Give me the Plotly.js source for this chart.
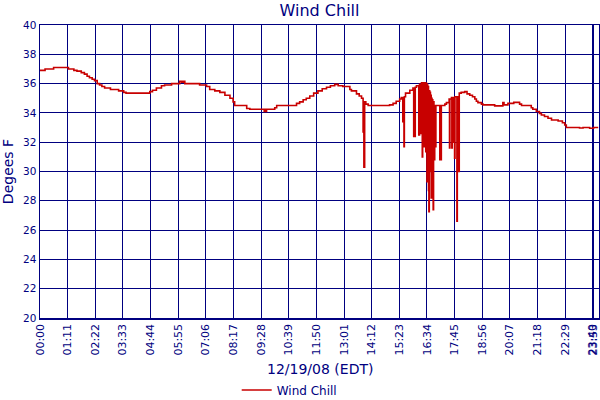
<!DOCTYPE html>
<html>
<head>
<meta charset="utf-8">
<script src="https://cdn.plot.ly/plotly-3.0.1.min.js"></script>
<style>html,body{margin:0;padding:0;background:#fff;}#chart{width:600px;height:400px;}</style>
</head>
<body>
<div id="chart"></div>
<script>
// Time of each reading, minutes after midnight (12/19/08)
var timeMin = [
  0, 13, 35, 73, 87, 95, 106, 114, 121, 127, 134, 140, 147, 153, 159, 166, 181, 202, 215, 221,
  282, 289, 299, 312, 320, 338, 359, 364, 368, 372, 410, 428, 436, 449, 462, 475, 488, 496, 500,
  531, 539, 576, 578, 580, 582, 603, 608, 659, 667, 676, 684, 693, 703, 714, 725, 736, 746, 757,
  766, 778, 796, 800, 813, 820, 826, 830, 831, 832, 834, 837, 843, 898, 907, 915, 924, 928, 932,
  933, 935, 936, 939, 950, 958, 960, 964, 967, 973, 975, 977, 980, 982, 983, 986, 989, 991, 993,
  994, 995, 996, 997, 998, 999, 1000, 1001, 1002, 1003, 1004, 1005, 1006, 1007, 1008, 1009, 1010,
  1011, 1012, 1013, 1014, 1015, 1016, 1017, 1027, 1031, 1035, 1040, 1044, 1051, 1052, 1053, 1057,
  1058, 1059, 1061, 1062, 1065, 1066, 1071, 1072, 1076, 1077, 1082, 1091, 1097, 1104, 1111, 1117,
  1121, 1125, 1134, 1138, 1168, 1189, 1192, 1202, 1217, 1232, 1237, 1262, 1266, 1275, 1283, 1288,
  1296, 1305, 1314, 1331, 1342, 1348, 1352, 1386, 1395, 1412, 1422, 1434
];
// Wind chill, degrees F
var windChill = [
  36.9, 37.0, 37.1, 37.0, 36.9, 36.85, 36.75, 36.65, 36.5, 36.4, 36.3, 36.2, 36.0, 35.9, 35.8, 35.7, 35.6, 35.5, 35.4, 35.35,
  35.45, 35.55, 35.7, 35.85, 35.9, 36.0, 36.15, 36.1, 36.15, 36.0, 35.9, 35.8, 35.6, 35.5, 35.4, 35.2, 35.0, 34.75, 34.5,
  34.3, 34.25, 34.1, 34.25, 34.1, 34.25, 34.35, 34.5, 34.65, 34.75, 34.9, 35.0, 35.15, 35.35, 35.5, 35.65, 35.75, 35.85, 35.95,
  35.85, 35.8, 35.6, 35.5, 35.3, 35.15, 35.0, 32.7, 34.75, 30.3, 34.75, 34.6, 34.5, 34.55, 34.65, 34.8, 34.95, 35.05, 33.4,
  35.05, 31.7, 35.1, 35.35, 35.55, 35.7, 32.4, 35.75, 35.85, 32.5, 35.95, 32.6, 36.05, 31.0, 36.05, 31.7, 36.05, 31.35, 36.0,
  29.3, 35.9, 29.5, 35.8, 28.7, 27.25, 35.5, 31.5, 35.4, 30.0, 35.2, 28.2, 35.0, 31.0, 34.9, 31.2, 27.4,
  34.75, 31.0, 30.8, 34.5, 31.7, 31.7, 34.5, 30.8, 34.5, 34.5, 34.6, 34.7, 34.95, 31.6, 34.95, 35.05,
  31.6, 35.05, 32.0, 35.05, 30.9, 35.1, 26.6, 35.1, 30.0, 35.35, 35.4, 35.45, 35.3, 35.2, 35.1, 34.95,
  34.8, 34.7, 34.6, 34.55, 34.48, 34.7, 34.55, 34.65, 34.72, 34.6, 34.5, 34.35, 34.25, 34.1, 33.97, 33.86,
  33.75, 33.63, 33.52, 33.45, 33.33, 33.17, 33.0, 32.97, 33.0, 32.95, 33.0, 33.0
];
// X-axis ticks
var tickMinutes = [0, 71, 142, 213, 284, 355, 426, 497, 568, 639, 710, 781, 852, 923, 994, 1065, 1136, 1207, 1278, 1349, 1420, 1421];
var tickLabels = ["00:00","01:11","02:22","03:33","04:44","05:55","07:06","08:17","09:28","10:39","11:50","13:01","14:12","15:23","16:34","17:45","18:56","20:07","21:18","22:29","23:40","23:53"];
var yTicks = [20, 22, 24, 26, 28, 30, 32, 34, 36, 38, 40];

var navy = '#000080';
var font = 'DejaVu Sans, Verdana, sans-serif';

var trace = {
  x: timeMin,
  y: windChill,
  type: 'scatter',
  mode: 'lines',
  name: 'Wind Chill',
  line: {color: '#c80000', width: 1.6, shape: 'hv'}
};

var layout = {
  width: 600,
  height: 400,
  margin: {l: 40, r: 1, t: 25, b: 82},
  paper_bgcolor: '#ffffff',
  plot_bgcolor: '#ffffff',
  font: {family: font, color: navy},
  title: {text: 'Wind Chill', font: {family: font, size: 16, color: navy}, x: 0.5, xref: 'paper', y: 0.975, yref: 'container', yanchor: 'middle'},
  xaxis: {
    range: [0, 1436],
    tickmode: 'array',
    tickvals: tickMinutes,
    ticktext: tickLabels,
    tickangle: -90,
    ticklabeloverflow: 'allow',
    tickfont: {family: font, size: 11, color: navy},
    showgrid: true,
    gridcolor: navy,
    gridwidth: 1,
    showline: true,
    linecolor: navy,
    linewidth: 1.5,
    mirror: true,
    zeroline: false,
    ticks: '',
    automargin: false
  },
  yaxis: {
    range: [20, 40],
    tickvals: yTicks,
    tickfont: {family: font, size: 10.5, color: navy},
    showgrid: true,
    gridcolor: navy,
    gridwidth: 1,
    showline: true,
    linecolor: navy,
    linewidth: 1.5,
    mirror: true,
    zeroline: false,
    ticks: '',
    automargin: false,
    title: {text: 'Degees F', font: {family: font, size: 14, color: navy}, standoff: 8}
  },
  annotations: [{
    text: '12/19/08 (EDT)',
    xref: 'paper', yref: 'paper',
    x: 0.5, y: -0.174,
    xanchor: 'center', yanchor: 'middle',
    showarrow: false,
    font: {family: font, size: 14, color: navy}
  }],
  showlegend: true,
  legend: {
    orientation: 'h',
    x: 0.482, xref: 'container', xanchor: 'center',
    y: 0.025, yref: 'container', yanchor: 'middle',
    font: {family: font, size: 12, color: navy},
    itemwidth: 30
  }
};

Plotly.newPlot('chart', [trace], layout, {staticPlot: true, displayModeBar: false});
</script>
</body>
</html>
